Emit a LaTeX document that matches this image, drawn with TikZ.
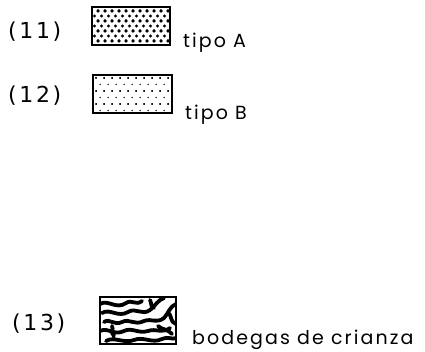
\documentclass[tikz,border=0pt]{standalone}
\usepackage{fontspec}
\setmainfont{Poppins}
\newfontfamily\numfont{DejaVu Sans}
\usetikzlibrary{patterns}
\pgfdeclarepatternformonly{bigdots}{\pgfqpoint{-1pt}{-1pt}}{\pgfqpoint{8pt}{11pt}}{\pgfqpoint{7pt}{10pt}}{%
  \pgfpathcircle{\pgfqpoint{0pt}{0pt}}{1.6pt}%
  \pgfpathcircle{\pgfqpoint{3.5pt}{5pt}}{1.6pt}%
  \pgfpathcircle{\pgfqpoint{7pt}{0pt}}{1.6pt}%
  \pgfpathcircle{\pgfqpoint{0pt}{10pt}}{1.6pt}%
  \pgfpathcircle{\pgfqpoint{7pt}{10pt}}{1.6pt}%
  \pgfusepath{fill}}
\pgfdeclarepatternformonly{sparsedots}{\pgfqpoint{-1pt}{-1pt}}{\pgfqpoint{9pt}{14pt}}{\pgfqpoint{8pt}{13pt}}{%
  \pgfpathcircle{\pgfqpoint{0pt}{0pt}}{0.75pt}%
  \pgfpathcircle{\pgfqpoint{4pt}{6.5pt}}{0.75pt}%
  \pgfpathcircle{\pgfqpoint{8pt}{0pt}}{0.75pt}%
  \pgfpathcircle{\pgfqpoint{0pt}{13pt}}{0.75pt}%
  \pgfpathcircle{\pgfqpoint{8pt}{13pt}}{0.75pt}%
  \pgfusepath{fill}}
\tikzset{
  px/.style={x=1pt,y=-1pt},
  numlab/.style={anchor=base west, inner sep=0pt, font=\numfont\addfontfeatures{LetterSpace=12}\fontsize{22}{22}\selectfont},
  txtlab/.style={anchor=base west, inner sep=0pt, font=\addfontfeatures{LetterSpace=11}\fontsize{19}{19}\selectfont},
  legbox/.style={draw=black, line width=1.6pt},
  worm/.style={line width=3.8pt, line cap=round}
}
\begin{document}
\begin{tikzpicture}[px]
\useasboundingbox (0,0) rectangle (425,351);
% labels
\node[numlab] (n11) at (8,38) {(11)};
\node[numlab] (n12) at (8,102) {(12)};
\node[numlab] (n13) at (12,330) {(13)};
% box A
\fill[pattern=bigdots] (92,7) rectangle (170,45);
\draw[legbox] (92,7) rectangle (170,45);
\node (boxA) at (131,26) {};
% box B
\fill[pattern=sparsedots] (93,75) rectangle (172,113);
\draw[legbox] (93,75) rectangle (172,113);
\node (boxB) at (132.5,94) {};
% box C
\begin{scope}
\clip (100,297) rectangle (176,344);
\draw[worm]
  (100,304) .. controls (108,299) and (116,310) .. (126,303) .. controls (132,299) and (136,306) .. (142,301)
  (102,313) .. controls (110,308) and (118,318) .. (128,312) .. controls (136,307) and (142,316) .. (150,310) .. controls (156,305) and (158,300) .. (164,298)
  (104,322) .. controls (110,318) and (114,326) .. (122,322) .. controls (130,318) and (134,326) .. (144,321) .. controls (152,318) and (156,324) .. (164,318) .. controls (168,314) and (170,306) .. (176,304)
  (100,331) .. controls (108,327) and (114,336) .. (124,331) .. controls (132,327) and (138,334) .. (148,331) .. controls (156,328) and (162,334) .. (170,328)
  (106,341) .. controls (114,336) and (124,344) .. (134,340) .. controls (144,336) and (152,344) .. (162,339) .. controls (168,336) and (172,340) .. (176,338)
  (150,300) .. controls (152,304) and (150,306) .. (154,308)
  (158,326) .. controls (162,330) and (166,328) .. (172,334)
  (112,326) .. controls (114,330) and (110,332) .. (114,336)
  (168,312) .. controls (172,316) and (170,322) .. (176,324);
\end{scope}
\draw[legbox] (100,297) rectangle (176,344);
\node (boxC) at (138,320.5) {};
\node[txtlab] (tA) at (183,47) {tipo A};
\node[txtlab] (tB) at (185,119) {tipo B};
\node[txtlab] (tC) at (192,344) {bodegas de crianza};
\end{tikzpicture}
\end{document}
